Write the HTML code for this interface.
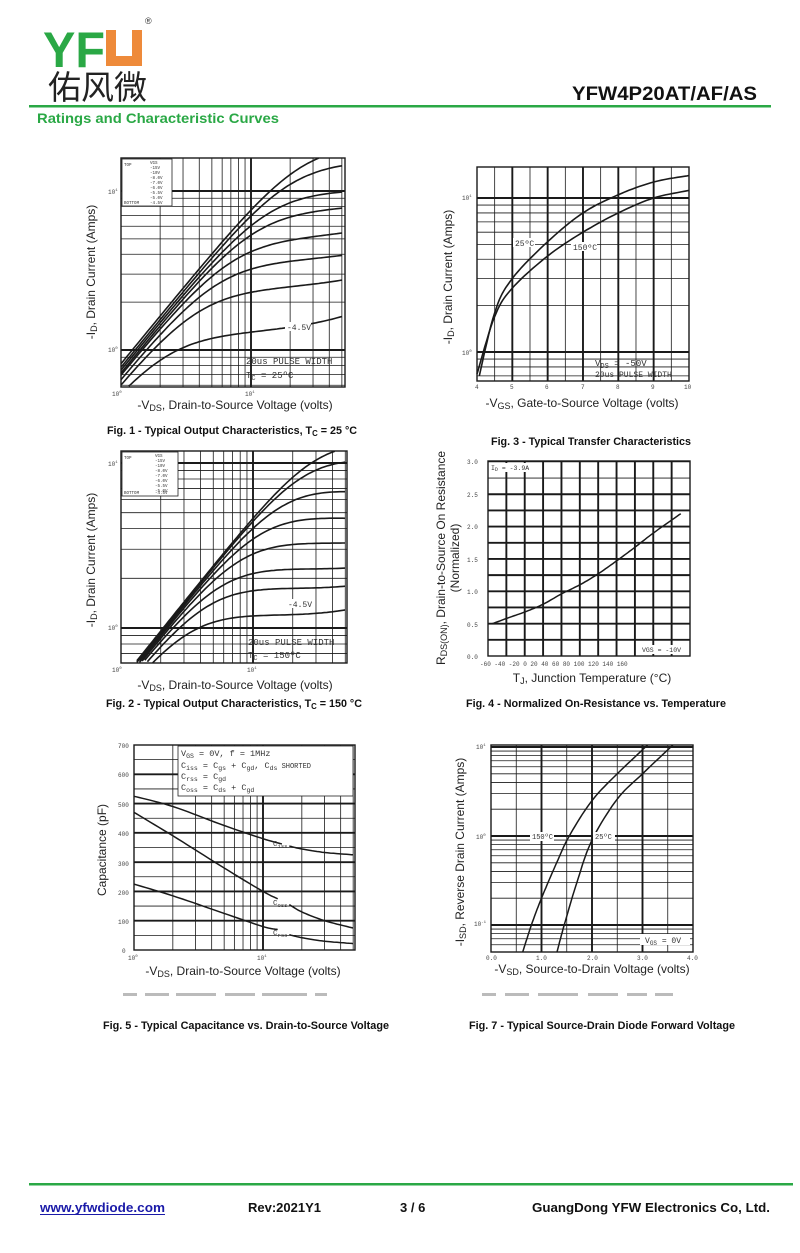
<!DOCTYPE html>
<html><head><meta charset="utf-8"><style>
html,body{margin:0;padding:0;background:#fff;}
body{width:800px;height:1253px;overflow:hidden;position:relative;font-family:"Liberation Sans",sans-serif;}
svg{position:absolute;left:0;top:0;}
</style></head><body>
<svg id="s" width="800" height="1253" viewBox="0 0 800 1253" xmlns="http://www.w3.org/2000/svg" font-family="Liberation Sans, sans-serif">
<!-- header -->
<text x="43" y="67" font-size="50" font-weight="bold" fill="#2aa845" textLength="62" lengthAdjust="spacingAndGlyphs">YF</text>
<path d="M106 30 h10 v26 h16 v-26 h10 v36 h-36 z" fill="#ee8a3a"/>
<text x="145" y="24" font-size="9" fill="#333">®</text>
<text x="48" y="99" font-size="33" fill="#222" font-family="Liberation Sans, Noto Sans CJK SC, sans-serif">佑风微</text>
<text x="757" y="100" font-size="19" font-weight="bold" fill="#111" text-anchor="end" textLength="185" lengthAdjust="spacingAndGlyphs">YFW4P20AT/AF/AS</text>
<rect x="29" y="105" width="742" height="2.5" fill="#2aa845"/>
<text x="37" y="123" font-size="14" font-weight="bold" fill="#2aa845" textLength="242" lengthAdjust="spacingAndGlyphs">Ratings and Characteristic Curves</text>
<!-- footer -->
<rect x="29" y="1183" width="764" height="2.5" fill="#2aa845"/>
<text x="40" y="1212" font-size="13" font-weight="bold" fill="#1a1aa8" textLength="125" lengthAdjust="spacingAndGlyphs">www.yfwdiode.com</text>
<rect x="40" y="1214" width="125" height="1" fill="#1a1aa8"/>
<text x="248" y="1212" font-size="13" font-weight="bold" fill="#111" textLength="73" lengthAdjust="spacingAndGlyphs">Rev:2021Y1</text>
<text x="400" y="1212" font-size="13" font-weight="bold" fill="#111">3 / 6</text>
<text x="770" y="1212" font-size="13" font-weight="bold" fill="#111" text-anchor="end" textLength="238" lengthAdjust="spacingAndGlyphs">GuangDong YFW Electronics Co, Ltd.</text>
<!-- faint scan remnants -->
<g fill="#bbb"><rect x="123" y="993" width="14" height="3"/><rect x="145" y="993" width="24" height="3"/><rect x="176" y="993" width="40" height="3"/><rect x="225" y="993" width="30" height="3"/><rect x="262" y="993" width="45" height="3"/><rect x="315" y="993" width="12" height="3"/>
<rect x="482" y="993" width="14" height="3"/><rect x="505" y="993" width="24" height="3"/><rect x="538" y="993" width="40" height="3"/><rect x="588" y="993" width="30" height="3"/><rect x="627" y="993" width="20" height="3"/><rect x="655" y="993" width="18" height="3"/></g>
<!-- captions -->
<g font-size="11" font-weight="bold" fill="#111" text-anchor="middle">
<text x="232" y="434" textLength="250" lengthAdjust="spacingAndGlyphs">Fig. 1 - Typical Output Characteristics, T<tspan font-size="8" dy="2">C</tspan><tspan dy="-2"> = 25 °C</tspan></text>
<text x="591" y="445" textLength="200" lengthAdjust="spacingAndGlyphs">Fig. 3 - Typical Transfer Characteristics</text>
<text x="234" y="707" textLength="256" lengthAdjust="spacingAndGlyphs">Fig. 2 - Typical Output Characteristics, T<tspan font-size="8" dy="2">C</tspan><tspan dy="-2"> = 150 °C</tspan></text>
<text x="596" y="707" textLength="260" lengthAdjust="spacingAndGlyphs">Fig. 4 - Normalized On-Resistance vs. Temperature</text>
<text x="246" y="1029" textLength="286" lengthAdjust="spacingAndGlyphs">Fig. 5 - Typical Capacitance vs. Drain-to-Source Voltage</text>
<text x="602" y="1029" textLength="266" lengthAdjust="spacingAndGlyphs">Fig. 7 - Typical Source-Drain Diode Forward Voltage</text>
</g>
<!-- axis labels -->
<g font-size="12" fill="#222" text-anchor="middle">
<text x="235" y="409">-V<tspan font-size="9" dy="2">DS</tspan><tspan dy="-2">, Drain-to-Source Voltage (volts)</tspan></text>
<text transform="translate(95,272) rotate(-90)">-I<tspan font-size="9" dy="2">D</tspan><tspan dy="-2">, Drain Current (Amps)</tspan></text>
<text x="582" y="407">-V<tspan font-size="9" dy="2">GS</tspan><tspan dy="-2">, Gate-to-Source Voltage (volts)</tspan></text>
<text transform="translate(452,277) rotate(-90)">-I<tspan font-size="9" dy="2">D</tspan><tspan dy="-2">, Drain Current (Amps)</tspan></text>
<text x="235" y="689">-V<tspan font-size="9" dy="2">DS</tspan><tspan dy="-2">, Drain-to-Source Voltage (volts)</tspan></text>
<text transform="translate(95,560) rotate(-90)">-I<tspan font-size="9" dy="2">D</tspan><tspan dy="-2">, Drain Current (Amps)</tspan></text>
<text x="592" y="682">T<tspan font-size="9" dy="2">J</tspan><tspan dy="-2">, Junction Temperature (°C)</tspan></text>
<text transform="translate(445,558) rotate(-90)">R<tspan font-size="9" dy="2">DS(ON)</tspan><tspan dy="-2">, Drain-to-Source On Resistance</tspan></text>
<text transform="translate(459,558) rotate(-90)">(Normalized)</text>
<text x="243" y="975">-V<tspan font-size="9" dy="2">DS</tspan><tspan dy="-2">, Drain-to-Source Voltage (volts)</tspan></text>
<text transform="translate(106,850) rotate(-90)">Capacitance (pF)</text>
<text x="592" y="973">-V<tspan font-size="9" dy="2">SD</tspan><tspan dy="-2">, Source-to-Drain Voltage (volts)</tspan></text>
<text transform="translate(464,852) rotate(-90)">-I<tspan font-size="9" dy="2">SD</tspan><tspan dy="-2">, Reverse Drain Current (Amps)</tspan></text>
</g>
<!-- tick labels -->
<g font-size="6" fill="#444" font-family="Liberation Mono, monospace">
<text x="112" y="396">10<tspan font-size="4" dy="-3">0</tspan></text>
<text x="245" y="396">10<tspan font-size="4" dy="-3">1</tspan></text>
<text x="108" y="194">10<tspan font-size="4" dy="-3">1</tspan></text>
<text x="108" y="352">10<tspan font-size="4" dy="-3">0</tspan></text>
<text x="112" y="672">10<tspan font-size="4" dy="-3">0</tspan></text>
<text x="247" y="672">10<tspan font-size="4" dy="-3">1</tspan></text>
<text x="108" y="466">10<tspan font-size="4" dy="-3">1</tspan></text>
<text x="108" y="630">10<tspan font-size="4" dy="-3">0</tspan></text>
<text x="462" y="200">10<tspan font-size="4" dy="-3">1</tspan></text>
<text x="462" y="355">10<tspan font-size="4" dy="-3">0</tspan></text>
<text x="475" y="389">4</text><text x="510" y="389">5</text><text x="545" y="389">6</text><text x="581" y="389">7</text><text x="616" y="389">8</text><text x="651" y="389">9</text><text x="684" y="389">10</text>
<text x="467" y="464">3.0</text><text x="467" y="497">2.5</text><text x="467" y="529">2.0</text><text x="467" y="562">1.5</text><text x="467" y="594">1.0</text><text x="467" y="627">0.5</text><text x="467" y="659">0.0</text>
<text x="480" y="666">-60 -40 -20  0  20  40  60  80  100 120 140 160</text>
<text x="118" y="748">700</text><text x="118" y="777">600</text><text x="118" y="807">500</text><text x="118" y="836">400</text><text x="118" y="866">300</text><text x="118" y="895">200</text><text x="118" y="924">100</text><text x="122" y="953">0</text>
<text x="128" y="960">10<tspan font-size="4" dy="-3">0</tspan></text>
<text x="257" y="960">10<tspan font-size="4" dy="-3">1</tspan></text>
<text x="476" y="749">10<tspan font-size="4" dy="-3">1</tspan></text>
<text x="476" y="839">10<tspan font-size="4" dy="-3">0</tspan></text>
<text x="474" y="926">10<tspan font-size="4" dy="-3">-1</tspan></text>
<text x="486" y="960">0.0</text><text x="536" y="960">1.0</text><text x="587" y="960">2.0</text><text x="637" y="960">3.0</text><text x="687" y="960">4.0</text>
</g>
<g id="plots" fill="none" stroke="#1a1a1a"></g>
<!-- annotations -->
<g font-family="Liberation Mono, monospace" fill="#333">
<rect x="122" y="159" width="50" height="47" fill="#fff" stroke="#222" stroke-width="0.8"/>
<g font-size="4.2"><text x="124" y="166">TOP</text><text x="150" y="164">VGS</text><text x="150" y="169">-15V</text><text x="150" y="174">-10V</text><text x="150" y="179">-8.0V</text><text x="150" y="184">-7.0V</text><text x="150" y="189">-6.0V</text><text x="150" y="194">-5.5V</text><text x="150" y="199">-5.0V</text><text x="124" y="204">BOTTOM</text><text x="150" y="204">-4.5V</text></g>
<rect x="122" y="452" width="56" height="44" fill="#fff" stroke="#222" stroke-width="0.8"/>
<g font-size="4.2"><text x="124" y="459">TOP</text><text x="155" y="457">VGS</text><text x="155" y="462">-15V</text><text x="155" y="467">-10V</text><text x="155" y="472">-8.0V</text><text x="155" y="477">-7.0V</text><text x="155" y="482">-6.0V</text><text x="155" y="487">-5.5V</text><text x="155" y="492">-5.0V</text><text x="124" y="494">BOTTOM</text><text x="155" y="494">-4.5V</text></g>
<rect x="285" y="322" width="26" height="9" fill="#fff"/><text x="287" y="330" font-size="8">-4.5V</text>
<text x="246" y="364" font-size="9">20us PULSE WIDTH</text>
<text x="246" y="378" font-size="9">T<tspan font-size="7" dy="2">C</tspan><tspan dy="-2"> = 25ºC</tspan></text>
<rect x="286" y="599" width="26" height="9" fill="#fff"/><text x="288" y="607" font-size="8">-4.5V</text>
<text x="248" y="645" font-size="9">20us PULSE WIDTH</text>
<text x="248" y="658" font-size="9">T<tspan font-size="7" dy="2">C</tspan><tspan dy="-2"> = 150ºC</tspan></text>
<rect x="513" y="238" width="22" height="9" fill="#fff"/><text x="515" y="246" font-size="8">25ºC</text>
<rect x="571" y="242" width="26" height="9" fill="#fff"/><text x="573" y="250" font-size="8">150ºC</text>
<text x="595" y="366" font-size="9">V<tspan font-size="7" dy="2">DS</tspan><tspan dy="-2"> = -50V</tspan></text>
<text x="595" y="377" font-size="8">20us PULSE WIDTH</text>
<rect x="490" y="463" width="40" height="9" fill="#fff"/><text x="491" y="470" font-size="6.5">I<tspan font-size="5" dy="1">D</tspan><tspan dy="-1"> = -3.9A</tspan></text>
<rect x="640" y="645" width="48" height="9" fill="#fff"/><text x="642" y="652" font-size="6.5">VGS = -10V</text>
<rect x="178" y="746" width="175" height="50" fill="#fff" stroke="#222" stroke-width="0.8"/>
<g font-size="8.5"><text x="181" y="756">V<tspan font-size="6.5" dy="2">GS</tspan><tspan dy="-2"> = 0V,  f = 1MHz</tspan></text>
<text x="181" y="768">C<tspan font-size="6.5" dy="2">iss</tspan><tspan dy="-2"> = C</tspan><tspan font-size="6.5" dy="2">gs</tspan><tspan dy="-2"> + C</tspan><tspan font-size="6.5" dy="2">gd</tspan><tspan dy="-2">, C</tspan><tspan font-size="6.5" dy="2">ds</tspan><tspan dy="-2" font-size="7"> SHORTED</tspan></text>
<text x="181" y="779">C<tspan font-size="6.5" dy="2">rss</tspan><tspan dy="-2"> = C</tspan><tspan font-size="6.5" dy="2">gd</tspan></text>
<text x="181" y="790">C<tspan font-size="6.5" dy="2">oss</tspan><tspan dy="-2"> = C</tspan><tspan font-size="6.5" dy="2">ds</tspan><tspan dy="-2"> + C</tspan><tspan font-size="6.5" dy="2">gd</tspan></text></g>
<g font-size="7.5"><text x="273" y="846">C<tspan font-size="5.5" dy="2">iss</tspan></text><text x="273" y="905">C<tspan font-size="5.5" dy="2">oss</tspan></text><text x="273" y="935">C<tspan font-size="5.5" dy="2">rss</tspan></text></g>
<rect x="530" y="832" width="24" height="9" fill="#fff"/><text x="532" y="839" font-size="7">150ºC</text>
<rect x="593" y="832" width="22" height="9" fill="#fff"/><text x="595" y="839" font-size="7">25ºC</text>
<rect x="640" y="934" width="50" height="11" fill="#fff"/><text x="645" y="943" font-size="8">V<tspan font-size="6" dy="2">GS</tspan><tspan dy="-2"> = 0V</tspan></text>
</g>
</svg>
<script>
var g=document.getElementById('plots'),NS='http://www.w3.org/2000/svg';
function add(t,a){var e=document.createElementNS(NS,t);for(var k in a)e.setAttribute(k,a[k]);g.appendChild(e);return e;}
function line(x1,y1,x2,y2,w){add('line',{x1:x1,y1:y1,x2:x2,y2:y2,'stroke-width':w});}
var lg=Math.log10;
function chart(c){
 c.vx.forEach(function(v){var x=c.fx(v);if(x>c.x0+0.5&&x<c.x1-0.5)line(x,c.y0,x,c.y1,c.tv.indexOf(v)>=0?1.9:0.8);});
 c.hy.forEach(function(v){var y=c.fy(v);if(y>c.y0+0.5&&y<c.y1-0.5)line(c.x0,y,c.x1,y,c.th.indexOf(v)>=0?1.9:0.8);});
 add('rect',{x:c.x0,y:c.y0,width:c.x1-c.x0,height:c.y1-c.y0,'stroke-width':1.4});
}
function path(pts,w){var d='M'+pts.map(function(p){return p[0].toFixed(1)+' '+p[1].toFixed(1)}).join(' L');add('path',{d:d,'stroke-width':w||1.6});}
function clipPts(pts,x0,y0,x1,y1){return pts.filter(function(p){return p[0]>=x0-0.1&&p[0]<=x1+0.1&&p[1]>=y0-0.1&&p[1]<=y1+0.1;});}
function interp(pts){
 var out=[];for(var i=0;i<pts.length-1;i++){var p0=pts[Math.max(0,i-1)],p1=pts[i],p2=pts[i+1],p3=pts[Math.min(pts.length-1,i+2)];
  for(var t=0;t<1;t+=0.1){var t2=t*t,t3=t2*t;var f=function(a,b,c,d){return 0.5*((2*b)+(-a+c)*t+(2*a-5*b+4*c-d)*t2+(-a+3*b-3*c+d)*t3)};
   out.push([f(p0[0],p1[0],p2[0],p3[0]),f(p0[1],p1[1],p2[1],p3[1])]);}}
 out.push(pts[pts.length-1]);return out;}
var dec=[];for(var d=-2;d<=2;d++)for(var m=1;m<10;m++)dec.push(m*Math.pow(10,d));
(function(){var c={x0:121,x1:345,y0:158,y1:387,fx:function(v){return 121+130*lg(v)},fy:function(v){return 350-159*lg(v)},vx:dec,hy:dec,tv:[10],th:[1,10]};chart(c);
 var cur=[[0.58,1.25,0.006],[0.62,2.4,0.003],[0.66,3.6,0.002],[0.7,5.0,0.002],[0.72,7.6,0.001],[0.75,10.2,0],[0.78,15.5,0],[0.82,20,0]];
 cur.forEach(function(q){var p=[];for(var L=0;L<=1.72;L+=0.02){var V=Math.pow(10,L),I=q[0]*V/Math.sqrt(1+Math.pow(q[0]*V/q[1],2))*(1+q[2]*V);p.push([c.fx(V),c.fy(I)]);}path(clipPts(p,121,158,345,387),1.6);});})();
(function(){var c={x0:121,x1:347,y0:451,y1:663,fx:function(v){return 121+132*lg(v)},fy:function(v){return 628-165*lg(v)},vx:dec,hy:dec,tv:[10],th:[1,10]};chart(c);
 var cur=[[0.39,1.3,0.006],[0.41,1.9,0.004],[0.43,2.5,0.003],[0.44,3.6,0.002],[0.45,5.2,0.001],[0.46,7.8,0],[0.47,12,0],[0.48,15,0]];
 cur.forEach(function(q){var p=[];for(var L=0;L<=1.72;L+=0.02){var V=Math.pow(10,L),I=q[0]*V/Math.sqrt(1+Math.pow(q[0]*V/q[1],2.2))*(1+q[2]*V);p.push([c.fx(V),c.fy(I)]);}path(clipPts(p,121,451,347,663),1.6);});})();
(function(){var fx=function(v){return 477+35.33*(v-4)},fy=function(v){return 352-154*lg(v)};var vx=[];for(var v=4;v<=10;v+=0.5)vx.push(v);
 var c={x0:477,x1:689,y0:167,y1:381,fx:fx,fy:fy,vx:vx,hy:dec,tv:[5,6,7,8,9],th:[1,10]};chart(c);
 var a=[[4,0.6],[4.5,1.8],[5,3.0],[6,5.2],[7,8],[8,10.5],[9,12.7],[10,14]],b=[[4,0.72],[4.5,1.7],[5,2.6],[6,4.2],[7,6],[8,8],[9,10],[10,11.2]];
 [a,b].forEach(function(s){path(clipPts(interp(s.map(function(p){return[fx(p[0]),fy(p[1])]})),477,167,689,381),1.6);});})();
(function(){var fx=function(t){return 488+(t+60)*202/220},fy=function(r){return 656-r*64.7};var vx=[],hy=[];for(var t=-60;t<=160;t+=20)vx.push(t);for(var r=0;r<=3;r+=0.25)hy.push(r);
 var c={x0:488,x1:690,y0:461,y1:656,fx:fx,fy:fy,vx:vx,hy:hy,tv:vx,th:[0.5,1,1.5,2,2.5,0.25,0.75,1.25,1.75,2.25]};chart(c);
 var s=[[-55,0.5],[-40,0.58],[-20,0.68],[0,0.8],[20,0.96],[40,1.1],[60,1.27],[80,1.47],[100,1.68],[120,1.9],[150,2.2]];
 path(interp(s.map(function(p){return[fx(p[0]),fy(p[1])]})),1.5);})();
(function(){var fx=function(v){return 134+129*lg(v)},fy=function(v){return 950-v*205/700};var hy=[];for(var v=0;v<=700;v+=50)hy.push(v);
 var c={x0:134,x1:355,y0:745,y1:950,fx:fx,fy:fy,vx:dec,hy:hy,tv:[10],th:[100,200,300,400,500,600]};chart(c);
 var S=[[[1,525],[2,490],[5,425],[10,380],[14,362]],[[16,355],[20,345],[30,333],[50,325]]],
     O=[[[1,470],[2,390],[5,280],[10,200],[13,175]],[[16,155],[20,130],[30,100],[50,75]]],
     R=[[[1,225],[2,185],[5,125],[10,80],[13,70]],[[16,52],[20,42],[30,30],[50,22]]];
 [S,O,R].forEach(function(q){q.forEach(function(s){path(clipPts(interp(s.map(function(p){return[fx(p[0]),fy(p[1])]})),134,745,355,950),1.5);});});})();
(function(){var fx=function(v){return 491+50.5*v},fy=function(v){return 836-89*lg(v)};var vx=[];for(var v=0;v<=4;v+=0.5)vx.push(v);
 var c={x0:491,x1:693,y0:745,y1:952,fx:fx,fy:fy,vx:vx,hy:dec,tv:[1,2,3],th:[0.1,1,10]};chart(c);
 var a=[[0.62,0.048],[0.8,0.1],[1.0,0.2],[1.3,0.5],[1.55,1],[2.0,2.5],[2.5,5],[3.1,10.5]],b=[[1.3,0.048],[1.45,0.1],[1.7,0.3],[2.0,0.9],[2.5,2.6],[3.0,5],[3.6,10.5]];
 [a,b].forEach(function(s){path(clipPts(interp(s.map(function(p){return[fx(p[0]),fy(p[1])]})),491,745,693,952),1.5);});})();
</script>
</body></html>
